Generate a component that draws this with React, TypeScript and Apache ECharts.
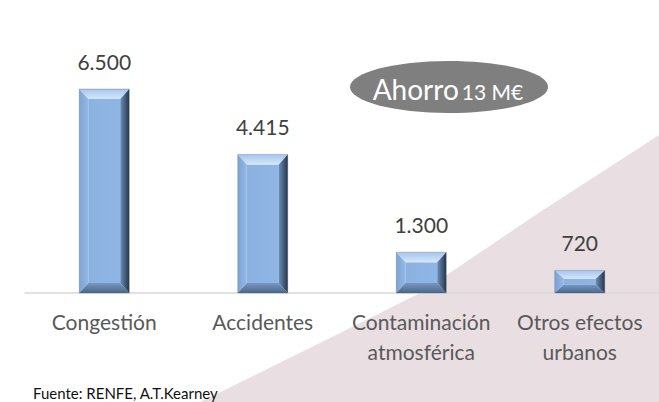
import React, { useEffect, useRef } from "react";
import * as echarts from "echarts";

const categories = ["Congestión", "Accidentes", "Contaminación\natmosférica", "Otros efectos\nurbanos"];
const values = [6500, 4415, 1300, 720];
const savingsWord = "Ahorro";
const savingsAmount = "13 M€";
const sourceText = "Fuente: RENFE, A.T.Kearney";

const FONT = "Lato, 'Open Sans', sans-serif";

function fmt(v: number): string {
  return String(v).replace(/\B(?=(\d{3})+(?!\d))/g, ".");
}

function lg(x0: number, y0: number, x1: number, y1: number, c0: string, c1: string) {
  return new echarts.graphic.LinearGradient(x0, y0, x1, y1, [
    { offset: 0, color: c0 },
    { offset: 1, color: c1 },
  ]);
}

export default function App() {
  const ref = useRef<HTMLDivElement>(null);
  useEffect(() => {
    document.body.style.margin = "0";
    const chart = echarts.init(ref.current!, null, { renderer: "svg" });
    const BW = 50;
    chart.setOption({
      animation: false,
      backgroundColor: "#ffffff",
      grid: { left: 25, right: 0, top: 89, bottom: 109 },
      xAxis: {
        type: "category",
        data: categories,
        axisLine: { show: true, lineStyle: { color: "#d9d9d9", width: 1.5 } },
        axisTick: { show: false },
        axisLabel: {
          color: "#595959",
          fontFamily: FONT,
          fontSize: 21,
          lineHeight: 30,
          margin: 13,
          interval: 0,
        },
      },
      yAxis: { type: "value", min: 0, max: 6500, show: false, splitLine: { show: false } },
      graphic: [
        {
          type: "polygon",
          z: -1,
          silent: true,
          shape: {
            points: [
              [659, 135],
              [659, 402],
              [200, 402],
              [340, 333],
              [420, 293],
              [540, 212],
            ],
          },
          style: { fill: "#e9dfe2" },
        },
        {
          type: "ellipse",
          z: 10,
          shape: { cx: 449, cy: 87, rx: 99, ry: 26 },
          style: { fill: "#7f7f7f" },
        },
        {
          type: "text",
          z: 11,
          x: 448,
          y: 88,
          style: {
            text: `{a|${savingsWord}} {b|${savingsAmount}}`,
            align: "center",
            verticalAlign: "middle",
            fill: "#ffffff",
            fontFamily: FONT,
            rich: {
              a: { fontSize: 28, fill: "#ffffff", fontFamily: FONT, verticalAlign: "bottom", lineHeight: 30 },
              b: { fontSize: 21, fill: "#ffffff", fontFamily: FONT, verticalAlign: "bottom", lineHeight: 26, padding: [0, 0, 1, 0] },
            },
          },
        },
        {
          type: "text",
          z: 11,
          x: 33,
          y: 393,
          style: {
            text: sourceText,
            align: "left",
            verticalAlign: "middle",
            fill: "#111111",
            fontFamily: FONT,
            fontSize: 15,
          },
        },
      ],
      series: [
        {
          type: "bar",
          data: values,
          barWidth: BW,
          silent: true,
          itemStyle: { color: "rgba(0,0,0,0)" },
          label: {
            show: true,
            position: "top",
            distance: 17,
            color: "#404040",
            fontFamily: FONT,
            fontSize: 21,
            formatter: (p: any) => fmt(p.value),
          },
        },
        {
          type: "custom",
          silent: true,
          z: 3,
          data: values.map((v, i) => [i, v]),
          encode: { x: 0, y: 1 },
          renderItem: (params: any, api: any) => {
            const idx = api.value(0);
            const val = api.value(1);
            const top = api.coord([idx, val]);
            const base = api.coord([idx, 0]);
            const x0 = top[0] - BW / 2;
            const x1 = top[0] + BW / 2;
            const y0 = top[1];
            const y1 = base[1];
            const h = y1 - y0;
            const bx = Math.min(9, h * 0.42);
            const by = Math.min(10, h * 0.37);
            const ix0 = x0 + bx;
            const ix1 = x1 - bx;
            const iy0 = y0 + by;
            const iy1 = y1 - by;
            return {
              type: "group",
              children: [
                {
                  type: "rect",
                  shape: { x: ix0, y: iy0, width: ix1 - ix0, height: Math.max(0, iy1 - iy0) },
                  style: { fill: lg(0, 0, 1, 0, "#8cb2e2", "#8fb5e4") },
                },
                {
                  type: "polygon",
                  shape: { points: [[x0, y0], [x1, y0], [ix1, iy0], [ix0, iy0]] },
                  style: { fill: lg(0, 0, 0, 1, "#a5c4ec", "#d4e7fb") },
                },
                {
                  type: "polygon",
                  shape: { points: [[x0, y0], [ix0, iy0], [ix0, iy1], [x0, y1]] },
                  style: { fill: lg(0, 0, 1, 0, "#7ea3d2", "#94b8e6") },
                },
                {
                  type: "polygon",
                  shape: { points: [[x0, y1], [ix0, iy1], [ix1, iy1], [x1, y1]] },
                  style: { fill: lg(0, 0, 0, 1, "#7797c2", "#4b6789") },
                },
                {
                  type: "polygon",
                  shape: { points: [[x1, y0], [x1, y1], [ix1, iy1], [ix1, iy0]] },
                  style: { fill: lg(1, 0, 0, 0, "#26364b", "#6c8db8") },
                },
                {
                  type: "rect",
                  shape: { x: x0, y: y0, width: BW, height: h },
                  style: { fill: "none", stroke: "rgba(60,80,110,0.35)", lineWidth: 0.8 },
                },
              ],
            };
          },
        },
      ],
    });
    return () => chart.dispose();
  }, []);
  return <div ref={ref} style={{ width: 659, height: 402 }} />;
}
